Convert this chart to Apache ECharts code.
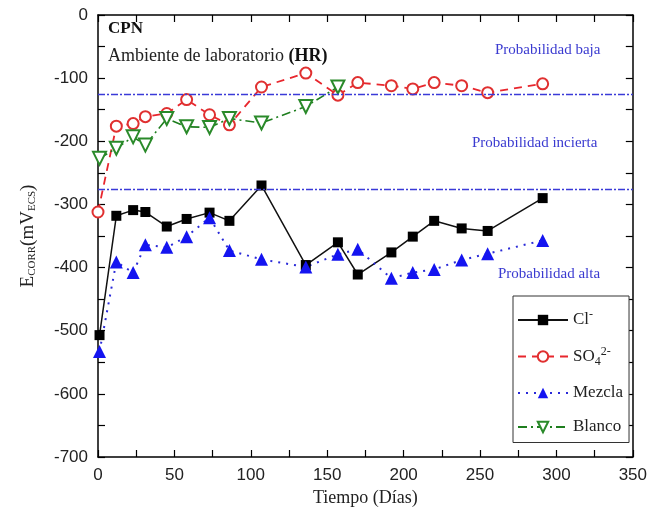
<!DOCTYPE html>
<html><head><meta charset="utf-8">
<script src="https://cdn.jsdelivr.net/npm/echarts@6/dist/echarts.min.js"></script>
<style>html,body{margin:0;padding:0;background:#fff}#c{width:650px;height:515px}</style>
</head><body><div id="c"></div>
<script>
var diasCl = [1, 12, 23, 31, 45, 58, 73, 86, 107, 136, 157, 170, 192, 206, 220, 238, 255, 291];
var cl = [-507, -318, -309, -312, -335, -323, -313, -326, -270, -396, -360, -411, -376, -351, -326, -338, -342, -290];
var diasMezcla = [1, 12, 23, 31, 45, 58, 73, 86, 107, 136, 157, 170, 192, 206, 220, 238, 255, 291];
var mezcla = [-533, -391, -408, -364, -368, -351, -321, -373, -387, -399, -379, -371, -417, -408, -403, -388, -378, -357];
var diasSO4 = [0, 12, 23, 31, 45, 58, 73, 86, 107, 136, 157, 170, 192, 206, 220, 238, 255, 291];
var so4 = [-312, -176, -172, -161, -156, -134, -158, -174, -114, -92, -127, -107, -112, -117, -107, -112, -123, -109];
var diasBlanco = [1, 12, 23, 31, 45, 58, 73, 86, 107, 136, 157];
var blanco = [-227, -211, -193, -206, -164, -177, -178, -164, -171, -145, -114];
var umbrales = [-126, -276];
var xTicks = {min: 0, max: 350, interval: 25, labelStep: 50};
var yTicks = {min: -700, max: 0, interval: 50, labelStep: 100};

function pairs(xs, ys) { return xs.map(function (x, i) { return [x, ys[i]]; }); }

var serif = '"Liberation Serif", "DejaVu Serif", serif';
var sans = '"Liberation Sans", Arial, sans-serif';
var probBlue = '#3a3ad0';

var chart = echarts.init(document.getElementById('c'), null, {renderer: 'canvas'});
var axisLine = {show: true, onZero: false, lineStyle: {color: '#000', width: 1.5}};
var tick = {inside: true, length: 7, lineStyle: {color: '#000', width: 1.2}};
function fmt(step) { return function (v) { return (Math.round(v) % step === 0) ? String(v) : ''; }; }
var option = {
  animation: false,
  backgroundColor: '#fff',
  grid: {left: 98, top: 15, right: 15, bottom: 58, show: false},
  xAxis: [{
    type: 'value', position: 'bottom', min: xTicks.min, max: xTicks.max, interval: xTicks.interval,
    axisLine: axisLine, axisTick: tick,
    splitLine: {show: false},
    axisLabel: {color: '#222', fontSize: 17, fontFamily: sans, margin: 10, formatter: fmt(xTicks.labelStep)},
    name: 'Tiempo (Días)', nameLocation: 'middle', nameGap: 31,
    nameTextStyle: {fontFamily: serif, fontSize: 18, color: '#222'}
  }, {
    type: 'value', position: 'top', min: xTicks.min, max: xTicks.max, interval: xTicks.interval,
    axisLine: axisLine, axisTick: tick,
    splitLine: {show: false}, axisLabel: {show: false}
  }],
  yAxis: [{
    type: 'value', position: 'left', min: yTicks.min, max: yTicks.max, interval: yTicks.interval,
    axisLine: axisLine, axisTick: tick,
    splitLine: {show: false},
    axisLabel: {color: '#222', fontSize: 17, fontFamily: sans, margin: 10, formatter: fmt(yTicks.labelStep)},
    name: '{b|E}{s|CORR}{b|(mV}{s|ECS}{b|)}', nameLocation: 'middle', nameGap: 60, nameRotate: 90,
    nameTextStyle: {
      color: '#222',
      rich: {
        b: {fontFamily: serif, fontSize: 19, color: '#222'},
        s: {fontFamily: serif, fontSize: 11, color: '#222', verticalAlign: 'bottom', padding: [8, 0, 0, 0]}
      }
    }
  }, {
    type: 'value', position: 'right', min: yTicks.min, max: yTicks.max, interval: yTicks.interval,
    axisLine: axisLine, axisTick: tick,
    splitLine: {show: false}, axisLabel: {show: false}
  }],
  legend: {
    left: 513, top: 296, width: 112,
    orient: 'vertical', itemWidth: 50, itemHeight: 13, itemGap: 17,
    padding: [13, 6, 7, 4],
    borderColor: '#333', borderWidth: 1, backgroundColor: '#fff',
    data: ['Cl', 'SO4', 'Mezcla', 'Blanco'],
    formatter: function (n) {
      if (n === 'Cl') return '{t|Cl}{sup|-}';
      if (n === 'SO4') return '{t|SO}{sub|4}{sup|2-}';
      return '{t|' + n + '}';
    },
    textStyle: {
      color: '#222', fontFamily: serif, fontSize: 17,
      rich: {
        t: {fontFamily: serif, fontSize: 17, color: '#222'},
        sup: {fontFamily: serif, fontSize: 12, color: '#222', verticalAlign: 'top', padding: [0, 0, 10, 0]},
        sub: {fontFamily: serif, fontSize: 12, color: '#222', verticalAlign: 'bottom', padding: [10, 0, 0, 0]}
      }
    }
  },
  series: [{
    name: 'Cl', type: 'line', data: pairs(diasCl, cl),
    symbol: 'rect', symbolSize: 10,
    lineStyle: {color: '#111', width: 1.5, type: 'solid'},
    itemStyle: {color: '#000'}, z: 3,
    markLine: {
      silent: true, symbol: 'none', label: {show: false},
      lineStyle: {color: '#3a3ad8', width: 1.3, type: [7, 2, 2, 2]},
      data: umbrales.map(function (v) { return {yAxis: v}; })
    }
  }, {
    name: 'SO4', type: 'line', data: pairs(diasSO4, so4),
    symbol: 'emptyCircle', symbolSize: 11,
    lineStyle: {color: '#e8262d', width: 1.8, type: [8, 6]},
    itemStyle: {color: '#e03030', borderWidth: 1}, z: 4
  }, {
    name: 'Mezcla', type: 'line', data: pairs(diasMezcla, mezcla),
    symbol: 'triangle', symbolSize: 13,
    lineStyle: {color: '#2a2ad8', width: 2, type: [2, 6]},
    itemStyle: {color: '#1414f0'}, z: 3
  }, {
    name: 'Blanco', type: 'line', data: pairs(diasBlanco, blanco),
    symbol: 'emptyTriangle', symbolRotate: 180, symbolSize: 13,
    lineStyle: {color: '#1e7e1e', width: 1.6, type: [9, 4, 2, 4]},
    itemStyle: {color: '#2a8a2a', borderWidth: 1}, z: 4
  }],
  graphic: [
    {type: 'text', left: 108, top: 20, style: {text: 'CPN', font: 'bold 17px ' + serif, fill: '#111'}},
    {type: 'text', left: 108, top: 47, style: {
      text: '{n|Ambiente de laboratorio }{b|(HR)}',
      rich: {n: {font: '18px ' + serif, fill: '#222'}, b: {font: 'bold 18px ' + serif, fill: '#111'}}
    }},
    {type: 'text', left: 495, top: 43, style: {text: 'Probabilidad baja', font: '15px ' + serif, fill: probBlue}},
    {type: 'text', left: 472, top: 136, style: {text: 'Probabilidad incierta', font: '15px ' + serif, fill: probBlue}},
    {type: 'text', left: 498, top: 267, style: {text: 'Probabilidad alta', font: '15px ' + serif, fill: probBlue}}
  ]
};
chart.setOption(option);
</script>
</body></html>
